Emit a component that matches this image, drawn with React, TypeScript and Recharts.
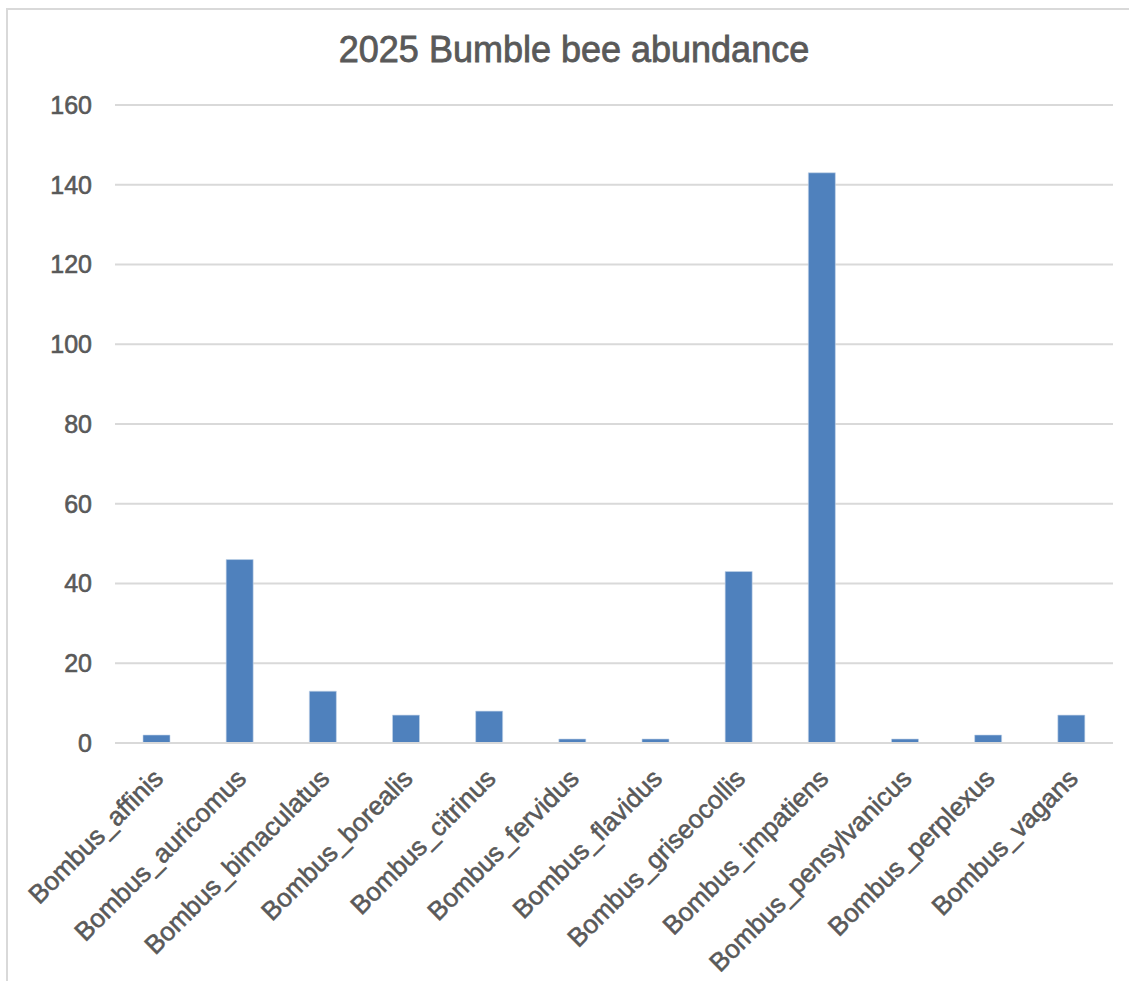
import { BarChart, Bar, XAxis, YAxis, CartesianGrid } from "recharts";

const species = [
  "Bombus_affinis",
  "Bombus_auricomus",
  "Bombus_bimaculatus",
  "Bombus_borealis",
  "Bombus_citrinus",
  "Bombus_fervidus",
  "Bombus_flavidus",
  "Bombus_griseocollis",
  "Bombus_impatiens",
  "Bombus_pensylvanicus",
  "Bombus_perplexus",
  "Bombus_vagans",
];
const counts = [2, 46, 13, 7, 8, 1, 1, 43, 143, 1, 2, 7];
const yTicks = [0, 20, 40, 60, 80, 100, 120, 140, 160];

const data = species.map((name, i) => ({ name, count: counts[i] }));

const FONT = "'Liberation Sans', Arial, sans-serif";
const TEXT = "#595959";

function SpeciesTick({ x, y, payload }: { x?: number; y?: number; payload?: { value: string } }) {
  const px = (x ?? 0) + 8;
  const py = (y ?? 0) + 29;
  return (
    <text
      x={px}
      y={py}
      transform={`rotate(-45, ${px}, ${py})`}
      textAnchor="end"
      fill={TEXT}
      stroke={TEXT}
      strokeWidth={0.6}
      fontSize={26}
      fontFamily={FONT}
    >
      {payload?.value}
    </text>
  );
}

export default function App() {
  return (
    <div
      style={{
        position: "absolute",
        left: 0,
        top: 0,
        width: 1129,
        height: 981,
        overflow: "hidden",
        background: "#fff",
      }}
    >
      <div
        style={{
          position: "absolute",
          left: 6,
          top: 8,
          width: 1160,
          height: 1010,
          border: "2px solid #d9d9d9",
        }}
      />
      <div
        style={{
          position: "absolute",
          left: 0,
          top: 29,
          width: 1148,
          textAlign: "center",
          fontFamily: FONT,
          fontSize: 36,
          color: TEXT,
          lineHeight: "42px",
          WebkitTextStroke: `0.8px ${TEXT}`,
        }}
      >
        2025 Bumble bee abundance
      </div>
      <div style={{ position: "absolute", left: 0, top: 0 }}>
        <BarChart
          width={1129}
          height={981}
          data={data}
          margin={{ top: 105, right: 16, bottom: 8, left: 15 }}
        >
          <CartesianGrid vertical={false} stroke="#d9d9d9" strokeWidth={2} />
          <XAxis
            dataKey="name"
            interval={0}
            height={230}
            tickLine={false}
            axisLine={{ stroke: "#d9d9d9", strokeWidth: 2 }}
            tick={<SpeciesTick />}
          />
          <YAxis
            width={100}
            domain={[0, 160]}
            ticks={yTicks}
            axisLine={false}
            tickLine={false}
            tickSize={0}
            tickMargin={23}
            tick={{ fill: TEXT, stroke: TEXT, strokeWidth: 0.6, fontSize: 25, fontFamily: FONT }}
          />
          <Bar
            dataKey="count"
            fill="#4f81bd"
            stroke="#c5d5ea"
            strokeWidth={0.6}
            barSize={27}
            isAnimationActive={false}
          />
        </BarChart>
      </div>
    </div>
  );
}
